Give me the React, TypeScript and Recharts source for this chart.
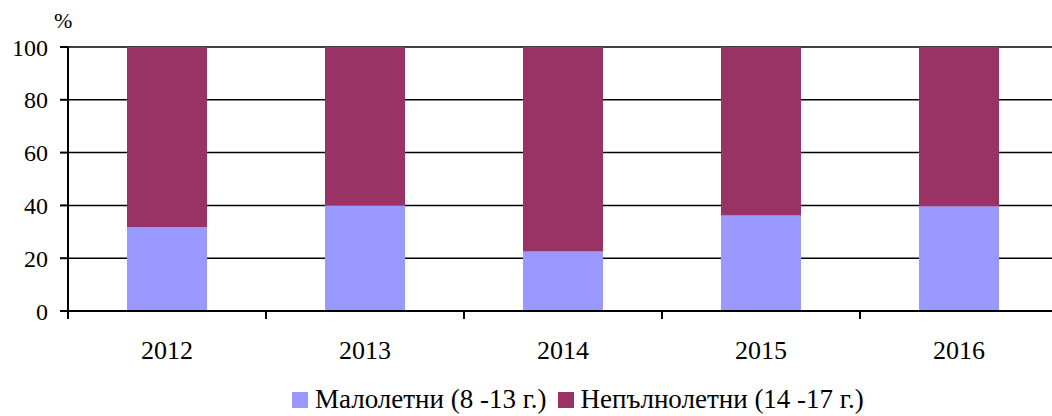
import { Bar, BarChart, CartesianGrid, Legend, XAxis, YAxis } from "recharts"

const years = ["2012", "2013", "2014", "2015", "2016"]
const minors = [31.7, 40.1, 22.5, 36.2, 39.7]
const juveniles = [68.3, 59.9, 77.5, 63.8, 60.3]
const yTicks = [0, 20, 40, 60, 80, 100]

const seriesNames = ["Малолетни (8 -13 г.)", "Непълнолетни (14 -17 г.)"]
const colors = ["#9999FF", "#993366"]

const data = years.map((y, i) => ({ year: y, minors: minors[i], juveniles: juveniles[i] }))

const font = "'Liberation Serif', 'Times New Roman', serif"

function XTick(props: any) {
  const { x, y, payload, index } = props
  const half = payload?.offset ?? 99
  return (
    <g>
      <line x1={x - half} y1={y} x2={x - half} y2={y + 8} stroke="#000" strokeWidth={2} />
      {index === years.length - 1 && (
        <line x1={x + half} y1={y} x2={x + half} y2={y + 8} stroke="#000" strokeWidth={2} />
      )}
      <text x={x} y={y + 48} textAnchor="middle" style={{ fontFamily: font }} fontSize={26} fill="#000">
        {payload.value}
      </text>
    </g>
  )
}

function LegendContent() {
  return (
    <div style={{ display: "flex", alignItems: "center", fontFamily: font, fontSize: 27, color: "#000", lineHeight: "27px" }}>
      {seriesNames.map((n, i) => (
        <div key={n} style={{ display: "flex", alignItems: "center", marginRight: 11 }}>
          <div style={{ width: 16, height: 16, background: colors[i], marginRight: 7 }} />
          <span>{n}</span>
        </div>
      ))}
    </div>
  )
}

export default function App() {
  return (
    <div style={{ position: "absolute", left: 0, top: 0, width: 1052, height: 416, overflow: "hidden", background: "#fff", fontFamily: font }}>
      <span style={{ position: "absolute", left: 54, top: 8, fontFamily: font, fontSize: 22, color: "#000" }}>%</span>
      <BarChart
        width={1058}
        height={416}
        data={data}
        margin={{ top: 47, right: 0, bottom: 0, left: 0 }}
        barCategoryGap="29.8%"
        style={{ fontFamily: font }}
      >
        <CartesianGrid vertical={false} stroke="#000" strokeWidth={1.5} />
        <XAxis
          dataKey="year"
          height={78}
          axisLine={{ stroke: "#000", strokeWidth: 2 }}
          tickLine={false}
          tickSize={0}
          tickMargin={0}
          tick={<XTick />}
          interval={0}
        />
        <YAxis
          width={68}
          domain={[0, 100]}
          ticks={yTicks}
          axisLine={{ stroke: "#000", strokeWidth: 2 }}
          tickLine={{ stroke: "#000", strokeWidth: 2 }}
          tickSize={8}
          tickMargin={12}
          tick={{ style: { fontFamily: font }, fontSize: 24, fill: "#000" }}
        />
        <Legend
          content={<LegendContent />}
          wrapperStyle={{ position: "absolute", left: 292, top: 386, width: "auto" }}
        />
        <Bar dataKey="minors" name={seriesNames[0]} stackId="a" fill={colors[0]} isAnimationActive={false} />
        <Bar dataKey="juveniles" name={seriesNames[1]} stackId="a" fill={colors[1]} isAnimationActive={false} />
      </BarChart>
    </div>
  )
}
